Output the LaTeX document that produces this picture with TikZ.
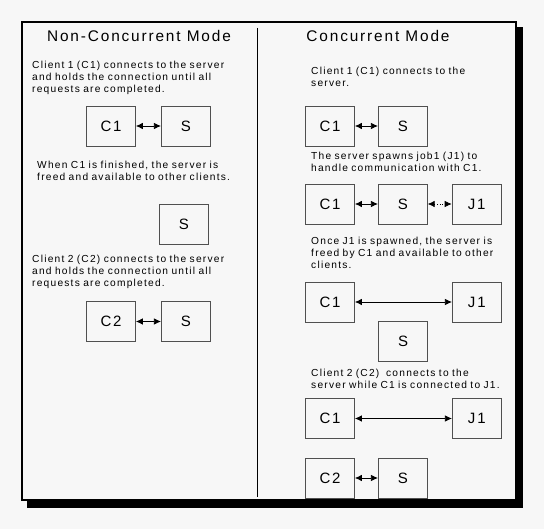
\documentclass[tikz,border=0pt]{standalone}
\usepackage{fontspec}
\setmainfont{Liberation Sans}[LetterSpace=12]
\usetikzlibrary{positioning,arrows.meta}
\definecolor{pagebg}{HTML}{F7F7F7}
\definecolor{boxline}{HTML}{505050}

\begin{document}
\begin{tikzpicture}[x=1pt, y=-1pt,
  box/.style={draw=boxline, line width=0.8pt, minimum width=49pt,
              minimum height=40pt, inner sep=0pt,
              font=\fontsize{15}{15}\selectfont},
  note/.style={anchor=base west, align=left, text width=220pt,
               inner sep=0pt, font=\fontsize{10.2}{11.7}\selectfont},
  title/.style={anchor=base, inner sep=0pt,
                font=\fontsize{15.4}{16}\selectfont},
  arr/.style={<->, >={Latex[length=7pt,width=6.5pt]}, line width=0.7pt},
]

% page, shadow and frame
\fill[pagebg] (0,0) rectangle (544,529);
\useasboundingbox (0,0) rectangle (544,529);
\fill (27,27) rectangle (523,508);
\draw[line width=2pt, fill=pagebg] (22,22) rectangle (516,500);
\draw[line width=1pt] (257,28) -- (257,497);

\node[title] (ltitle) at (139,41.7) {Non-Concurrent Mode};
\node[title] (rtitle) at (378,41.7) {Concurrent Mode};

% non-concurrent side
\node[note] (lnote1) at (32,69)
  {Client 1 (C1) connects to the server\\and holds the connection until all\\requests are completed.};
\node[box] (lc1) at (111,126) {C1};
\node[box, right=25pt of lc1] (ls1) {S};

\node[note] (lnote2) at (37,169)
  {When C1 is finished, the server is\\freed and available to other clients.};
\node[box] (ls2) at (184,224) {S};

\node[note] (lnote3) at (32,262.7)
  {Client 2 (C2) connects to the server\\and holds the connection until all\\requests are completed.};
\node[box] (lc2) at (111,321.5) {C2};
\node[box, right=25pt of lc2] (ls3) {S};

% concurrent side
\node[note] (rnote1) at (311,74.7)
  {Client 1 (C1) connects to the\\server.};
\node[box] (rc1) at (330,126) {C1};
\node[box, right=23pt of rc1] (rs1) {S};

\node[note] (rnote2) at (311,160)
  {The server spawns job1 (J1) to\\handle communication with C1.};
\node[box] (rc2) at (330,204) {C1};
\node[box, right=23pt of rc2] (rs2) {S};
\node[box, right=24pt of rs2] (rj2) {J1};

\node[note] (rnote3) at (311,245)
  {Once J1 is spawned, the server is\\freed by C1 and available to other\\clients.};
\node[box] (rc3) at (330,302) {C1};
\node[box, right=97pt of rc3] (rj3) {J1};
\node[box] (rs3) at (403,341.5) {S};

\node[note] (rnote4) at (311,377)
  {Client 2 (C2)\ \ connects to the\\server while C1 is connected to J1.};
\node[box] (rc4) at (330,418.5) {C1};
\node[box, right=97pt of rc4] (rj4) {J1};

\node[box] (rc5) at (330,478) {C2};
\node[box, right=23pt of rc5] (rs5) {S};

\draw[arr] (lc1) -- (ls1);
\draw[arr] (lc2) -- (ls3);
\draw[arr] (rc1) -- (rs1);
\draw[arr] (rc2) -- (rs2);
\draw[arr, dotted] (rs2) -- (rj2);
\draw[arr] (rc3) -- (rj3);
\draw[arr] (rc4) -- (rj4);
\draw[arr] (rc5) -- (rs5);

\end{tikzpicture}
\end{document}
